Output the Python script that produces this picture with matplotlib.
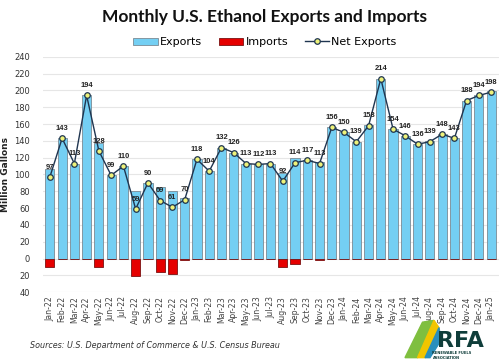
import numpy as np
import matplotlib
matplotlib.use('Agg')
import matplotlib.pyplot as plt
from matplotlib.ticker import FuncFormatter

# Dados (milhões de galões)
meses = ['Jan-22', 'Feb-22', 'Mar-22', 'Apr-22', 'May-22', 'Jun-22', 'Jul-22', 'Aug-22',
         'Sep-22', 'Oct-22', 'Nov-22', 'Dec-22', 'Jan-23', 'Feb-23', 'Mar-23', 'Apr-23',
         'May-23', 'Jun-23', 'Jul-23', 'Aug-23', 'Sep-23', 'Oct-23', 'Nov-23', 'Dec-23',
         'Jan-24', 'Feb-24', 'Mar-24', 'Apr-24', 'May-24', 'Jun-24', 'Jul-24', 'Aug-24',
         'Sep-24', 'Oct-24', 'Nov-24', 'Dec-24', 'Jan-25']
exportacoes = [107, 143, 113, 194, 138, 99, 110, 80, 90, 85, 80, 72, 118, 104, 132, 126,
               113, 112, 113, 102, 120, 117, 115, 156, 150, 139, 159, 214, 154, 146, 136,
               140, 148, 143, 188, 194, 199]
importacoes = [10, 0, 0, 0, 10, 0, 0, 21, 0, 16, 19, 2, 0, 0, 0, 0,
               0, 0, 0, 10, 6, 0, 2, 0, 0, 0, 1, 0, 0, 0, 0,
               1, 0, 0, 0, 0, 1]
liquidas = [97, 143, 113, 194, 128, 99, 110, 59, 90, 69, 61, 70, 118, 104, 132, 126,
            113, 112, 113, 92, 114, 117, 113, 156, 150, 139, 158, 214, 154, 146, 136,
            139, 148, 143, 188, 194, 198]

x = np.arange(len(meses))

fig = plt.figure(figsize=(5, 3.62), dpi=100)
ax = fig.add_axes([0.085, 0.193, 0.912, 0.65])

# Barras
b1 = ax.bar(x, exportacoes, width=0.75, color='#74CFF3', edgecolor='#7a8a94', linewidth=0.6,
            label='Exports', zorder=2)
b2 = ax.bar(x, [-v for v in importacoes], width=0.75, color='#E50000', edgecolor='#7a1010',
            linewidth=0.6, label='Imports', zorder=2)

# Linha das exportações líquidas
l1, = ax.plot(x, liquidas, color='#1f3550', linewidth=1.0, marker='o', markersize=4,
              markerfacecolor='#EEF27A', markeredgecolor='#1f3550', markeredgewidth=0.9,
              label='Net Exports', zorder=3)

for xi, v in zip(x, liquidas):
    ax.annotate(str(v), (xi, v), xytext=(0, 4.5), textcoords='offset points',
                ha='center', va='bottom', fontsize=5.4, fontweight='bold',
                family='Liberation Sans', color='#222222', zorder=4)

# Eixos
ax.set_xlim(-0.6, len(meses) - 0.4)
ax.set_ylim(-40, 240)
ax.set_yticks(np.arange(-40, 241, 20))
ax.yaxis.set_major_formatter(FuncFormatter(lambda v, p: f'{abs(int(v))}'))
ax.set_xticks(x)
ax.set_xticklabels(meses, rotation=90, fontsize=5.6, color='#444444')
ax.tick_params(axis='y', labelsize=6, colors='#333333', length=0, pad=9)
ax.tick_params(axis='x', length=0, pad=3)
ax.grid(axis='y', color='#e6e6e6', linewidth=0.8, zorder=0)
for s in ax.spines.values():
    s.set_visible(False)
ax.set_ylabel('Million Gallons', fontsize=6.5, fontweight='bold', color='#222222', labelpad=3)

# Título e legenda
fig.text(0.53, 0.953, 'Monthly U.S. Ethanol Exports and Imports', ha='center', va='center',
         fontsize=12.5, fontweight='bold', family='Lato', color='#111111')
fig.legend([b1, b2, l1], ['Exports', 'Imports', 'Net Exports'], loc='center',
           bbox_to_anchor=(0.53, 0.884), ncol=3, frameon=False,
           fontsize=8, handlelength=2.2, handleheight=0.6, handletextpad=0.2,
           columnspacing=1.5, borderaxespad=0)

# Fonte
fig.text(0.06, 0.045, 'Sources: U.S. Department of Commerce & U.S. Census Bureau',
         fontsize=5.8, style='italic', color='#333333', va='center')

# Logo RFA (texto)
fig.text(0.968, 0.042, 'RFA', ha='right', va='baseline', fontsize=16, fontweight='bold',
         color='#0f3d3a')
fig.text(0.865, 0.018, 'RENEWABLE FUELS\nASSOCIATION', ha='left', va='center', fontsize=2.6,
         fontweight='bold', color='#0f3d3a', linespacing=1.1)
fig.patches.append(plt.Polygon([[0.81, 0.012], [0.845, 0.11], [0.868, 0.115], [0.835, 0.012]],
                               closed=True, transform=fig.transFigure, color='#7fbf3f'))
fig.patches.append(plt.Polygon([[0.835, 0.012], [0.868, 0.115], [0.878, 0.095], [0.85, 0.012]],
                               closed=True, transform=fig.transFigure, color='#f2c500'))
fig.patches.append(plt.Polygon([[0.85, 0.012], [0.878, 0.095], [0.882, 0.06], [0.86, 0.012]],
                               closed=True, transform=fig.transFigure, color='#2a8fbd'))

plt.savefig('out.png', dpi=100)
